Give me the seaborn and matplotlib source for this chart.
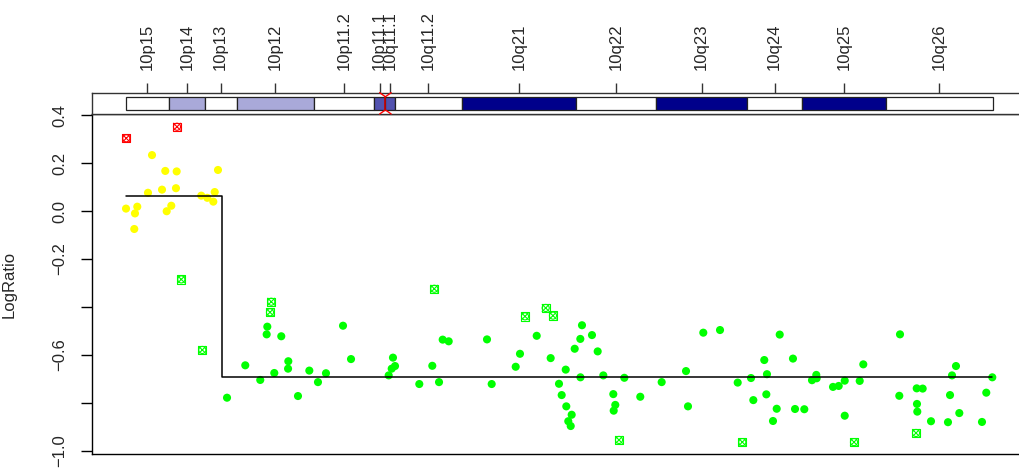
import numpy as np
import pandas as pd
import matplotlib
matplotlib.use("Agg")
import matplotlib.pyplot as plt
import seaborn as sns
from matplotlib.patches import Rectangle

# ---------------- data ----------------
band_names = ["10p15", "10p14", "10p13", "10p12", "10p11.2", "10p11.1", "10q11.1",
              "10q11.2", "10q21", "10q22", "10q23", "10q24", "10q25", "10q26"]
band_starts = [0.0, 6.76, 12.33, 17.33, 29.40, 38.77, 40.55, 42.0, 52.5, 70.3, 82.84, 97.0, 105.6, 118.7]
band_ends = [6.76, 12.33, 17.33, 29.40, 38.77, 40.55, 42.0, 52.5, 70.3, 82.84, 97.0, 105.6, 118.7, 135.37]
band_stain = ["gneg", "gpos50", "gneg", "gpos50", "gneg", "acen", "acen",
              "gneg", "gpos100", "gneg", "gpos100", "gneg", "gpos100", "gneg"]
centromere = 40.55

seg_start = [0.0, 15.1]
seg_end = [15.1, 135.3]
seg_mean = [0.064, -0.692]

seg1_pos = [0.05, 1.34, 1.45, 1.81, 3.48, 4.11, 5.67, 6.18, 6.40, 7.12, 7.85, 7.96,
            11.80, 12.74, 13.68, 13.90, 14.41]
seg1_ratio = [0.010, -0.075, -0.010, 0.018, 0.076, 0.233, 0.089, 0.167, -0.001, 0.022, 0.095, 0.165,
              0.064, 0.055, 0.039, 0.079, 0.171]

seg2_pos = [15.82, 18.67, 21.01, 22.11, 22.01, 24.29, 23.20, 25.39, 25.35, 26.90, 28.67, 30.02,
            31.27, 33.93, 35.18, 41.06, 41.53, 41.73, 42.05, 45.84, 47.87, 48.92, 49.49, 50.43,
            56.41, 57.14, 60.89, 61.56, 64.17, 66.35, 67.65, 68.07, 68.70, 68.79, 69.10, 69.48,
            69.63, 70.10, 70.98, 71.24, 71.00, 72.80, 73.69, 74.57, 76.13, 76.44, 76.19, 77.85,
            80.34, 83.68, 87.48, 87.79, 90.18, 92.79, 95.55, 97.63, 97.99, 99.70, 100.12, 100.02,
            101.06, 101.64, 102.11, 104.18, 104.50, 105.95, 107.15, 107.82, 107.88, 110.43, 111.32,
            112.26, 112.26, 114.60, 115.16, 120.89, 120.78, 123.50, 124.43, 123.54, 123.59, 125.73,
            128.38, 129.01, 129.63, 128.70, 130.15, 133.69, 134.36, 135.30]
seg2_ratio = [-0.778, -0.643, -0.704, -0.482, -0.514, -0.522, -0.675, -0.626, -0.657, -0.771, -0.665, -0.713,
              -0.676, -0.478, -0.617, -0.685, -0.657, -0.611, -0.646, -0.721, -0.645, -0.713, -0.536, -0.543,
              -0.535, -0.721, -0.649, -0.595, -0.520, -0.613, -0.720, -0.767, -0.661, -0.814, -0.876, -0.896,
              -0.849, -0.574, -0.533, -0.476, -0.693, -0.517, -0.585, -0.685, -0.763, -0.808, -0.832, -0.695,
              -0.774, -0.713, -0.667, -0.814, -0.507, -0.496, -0.715, -0.696, -0.788, -0.621, -0.680, -0.764,
              -0.875, -0.824, -0.515, -0.615, -0.825, -0.826, -0.705, -0.683, -0.697, -0.733, -0.729,
              -0.707, -0.853, -0.708, -0.639, -0.514, -0.770, -0.739, -0.740, -0.804, -0.836, -0.876,
              -0.880, -0.685, -0.646, -0.767, -0.842, -0.879, -0.757, -0.693]

outlier_pos = [0.09, 8.01, 8.68, 11.96, 22.73, 22.53, 48.18, 62.34, 65.57, 66.71, 77.02, 96.27, 113.71, 123.39]
outlier_ratio = [0.303, 0.351, -0.285, -0.579, -0.378, -0.422, -0.324, -0.439, -0.404, -0.436,
                 -0.954, -0.963, -0.963, -0.925]
outlier_group = ["gain", "gain", "loss", "loss", "loss", "loss", "loss", "loss", "loss", "loss",
                 "loss", "loss", "loss", "loss"]

ytick_values = [-1.0, -0.8, -0.6, -0.4, -0.2, 0.0, 0.2, 0.4]
ytick_labels = ["\u22121.0", "", "\u22120.6", "", "\u22120.2", "0.0", "0.2", "0.4"]

# ---------------- styling ----------------
sns.set_style("ticks")
plt.rcParams["font.family"] = ["Liberation Sans", "DejaVu Sans"]
plt.rcParams["axes.linewidth"] = 1.0

stain_colors = {"gneg": "#FFFFFF", "gpos50": "#A9A9D9", "acen": "#5353B0", "gpos100": "#00008B"}
seg_palette = {"seg1": "#FFFF00", "seg2": "#00FF00"}
out_palette = {"gain": "#FF0000", "loss": "#00FF00"}

W, H = 1020, 471
fig = plt.figure(figsize=(W / 100, H / 100), dpi=100)

left_px, right_px = 92, 1027.4
top_px, bottom_px = 114, 454.3
hdr_top_px = 92.7
ax = fig.add_axes([left_px / W, (H - bottom_px) / H, (right_px - left_px) / W, (bottom_px - top_px) / H])
axh = fig.add_axes([left_px / W, (H - top_px) / H, (right_px - left_px) / W, (top_px - hdr_top_px) / H])

xlim = (-5.26, 140.78)
ax.set_xlim(*xlim)
ax.set_ylim(-1.0138, 0.4042)

# points
pts = pd.DataFrame({
    "pos": seg1_pos + seg2_pos,
    "ratio": seg1_ratio + seg2_ratio,
    "seg": ["seg1"] * len(seg1_pos) + ["seg2"] * len(seg2_pos),
})
sns.scatterplot(data=pts, x="pos", y="ratio", hue="seg", palette=seg_palette, s=34,
                edgecolor="none", linewidth=0, legend=False, ax=ax, zorder=3)

outs = pd.DataFrame({"pos": outlier_pos, "ratio": outlier_ratio, "grp": outlier_group})
ocols = [out_palette[g] for g in outlier_group]
ax.scatter(outs["pos"], outs["ratio"], marker="s", s=36, facecolors="none", edgecolors=ocols,
           linewidths=0.8, zorder=4)
ax.scatter(outs["pos"], outs["ratio"], marker="o", s=26, facecolors="none", edgecolors=ocols,
           linewidths=0.8, zorder=4)
sns.scatterplot(data=outs, x="pos", y="ratio", hue="grp", palette=out_palette, marker="x", s=30,
                linewidth=0.8, legend=False, ax=ax, zorder=4)

# segments as a step line
sx, sy = [], []
for a, b, m in zip(seg_start, seg_end, seg_mean):
    sx += [a, b]
    sy += [m, m]
ax.plot(sx, sy, color="black", lw=1.1, zorder=5)

ax.set_xlim(*xlim)
ax.set_yticks(ytick_values)
ax.set_yticklabels(ytick_labels, rotation=90, va="center")
ax.tick_params(axis="y", length=7.7, width=1.0, pad=10, labelsize=12, color="black")
ax.set_xticks([])
ax.set_xlabel("")
ax.set_ylabel("LogRatio", fontsize=12)
ax.yaxis.set_label_coords(-(92 - 17) / (right_px - left_px), 0.5)
for sp in ax.spines.values():
    sp.set_color("black")

# ideogram header
axh.set_xlim(*xlim)
axh.set_ylim(0, 1)
axh.set_yticks([])
for s0, e0, st in zip(band_starts, band_ends, band_stain):
    axh.add_patch(Rectangle((s0, 0.19), e0 - s0, 0.62, facecolor=stain_colors[st],
                            edgecolor="#222222", lw=0.9, zorder=2))
d = 0.9
axh.plot([centromere - d, centromere, centromere + d], [1.0, 0.81, 1.0], color="red", lw=1.0, zorder=4,
         clip_on=False)
axh.plot([centromere - d, centromere, centromere + d], [0.0, 0.19, 0.0], color="red", lw=1.0, zorder=4,
         clip_on=False)
axh.plot([centromere, centromere], [0.19, 0.81], color="#CC0000", lw=1.2, zorder=4)

mids = [(a + b) / 2 for a, b in zip(band_starts, band_ends)]
axh.xaxis.tick_top()
axh.set_xticks(mids)
axh.set_xticklabels(band_names, rotation=90)
axh.tick_params(axis="x", top=True, bottom=False, length=7.5, width=1.0, pad=8.9, labelsize=12,
                color="#333333", labelbottom=False, labeltop=True)
for sp in axh.spines.values():
    sp.set_color("#333333")
axh.set_xlim(*xlim)

fig.savefig("out.png", dpi=100, facecolor="white")
